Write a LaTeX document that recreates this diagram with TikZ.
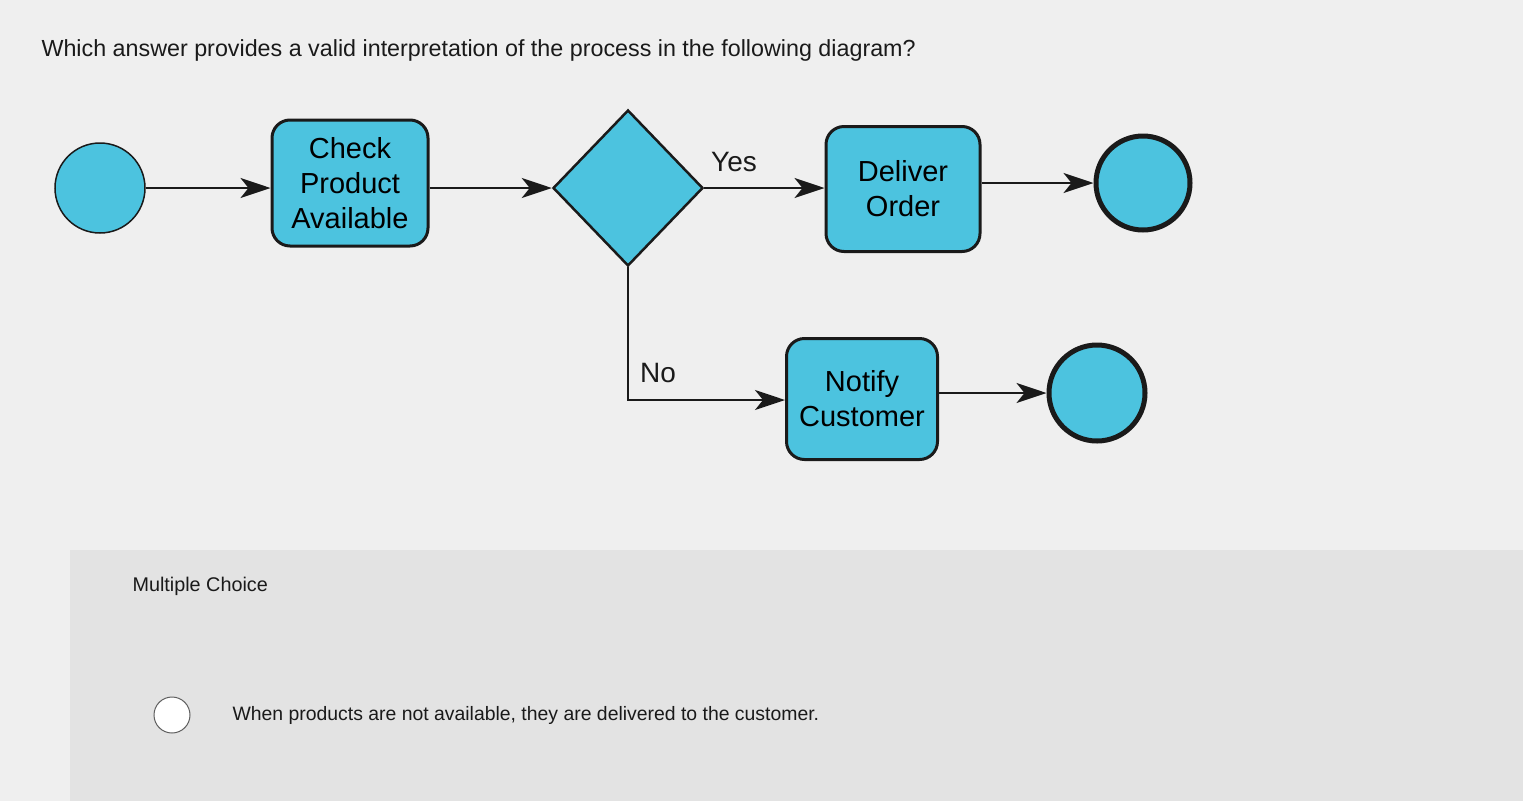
\documentclass[tikz,border=0pt]{standalone}
\usepackage{fontspec}
\setmainfont{Liberation Sans}
\usetikzlibrary{arrows.meta,shapes.geometric}
\definecolor{cy}{HTML}{4CC3DF}
\definecolor{bg}{HTML}{EFEFEF}
\definecolor{panel}{HTML}{E3E3E3}
\definecolor{ink}{HTML}{1A1A1A}
\tikzset{
  flow/.style={draw=ink, line width=2pt, -{Stealth[length=30pt,width=20pt,inset=8pt]}},
  task/.style={draw=ink, line width=3pt, fill=cy, rounded corners=18pt, align=center, font=\fontsize{29}{35}\selectfont, inner sep=0pt},
  ev/.style={circle, draw=ink, fill=cy, inner sep=0pt},
  lbl/.style={font=\fontsize{28}{34}\selectfont, text=ink},
}
\begin{document}
\begin{tikzpicture}[x=1pt,y=-1pt]
\fill[bg] (0,0) rectangle (1523,801);
\useasboundingbox (0,0) rectangle (1523,801);
\fill[panel] (70,550) rectangle (1523,801);
\node[anchor=west, font=\fontsize{23.3}{28}\selectfont, text=ink] (title) at (38,50) {Which answer provides a valid interpretation of the process in the following diagram?};
\node[ev, line width=1.5pt, minimum size=90pt] (s) at (100,188) {};
\node[task, minimum width=156pt, minimum height=126pt] (c) at (350,183) {Check\\Product\\Available};
\node[diamond, draw=ink, line width=2.5pt, fill=cy, minimum width=150pt, minimum height=156pt, inner sep=0pt] (d) at (628,188) {};
\node[task, minimum width=154pt, minimum height=125pt] (dl) at (903,189) {Deliver\\Order};
\node[ev, line width=5pt, minimum size=94pt] (e1) at (1143,183) {};
\node[task, minimum width=151pt, minimum height=121pt] (n) at (862,399) {Notify\\Customer};
\node[ev, line width=5pt, minimum size=96pt] (e2) at (1097,393) {};
\coordinate (corner) at (628,400);
\draw[flow] (s.east) -- (s.east -| c.west);
\draw[flow] (c.east |- d.west) -- (d.west);
\draw[flow] (d.east) -- (d.east -| dl.west);
\draw[flow] (dl.east |- e1.west) -- (e1.west);
\draw[flow] (d.south) -- (corner) -- (corner -| n.west);
\draw[flow] (n.east |- e2.west) -- (e2.west);
\node[lbl] (yes) at (734,162) {Yes};
\node[lbl] (no) at (658,373) {No};
\node[anchor=west, font=\fontsize{19.8}{24}\selectfont, text=ink] (mc) at (129,586) {Multiple Choice};
\node[circle, draw=ink!70, line width=1pt, fill=white, minimum size=36pt, inner sep=0pt] (r) at (172,715) {};
\node[anchor=west, font=\fontsize{19.4}{24}\selectfont, text=ink] (ans) at (229,715) {When products are not available, they are delivered to the customer.};
\end{tikzpicture}
\end{document}
